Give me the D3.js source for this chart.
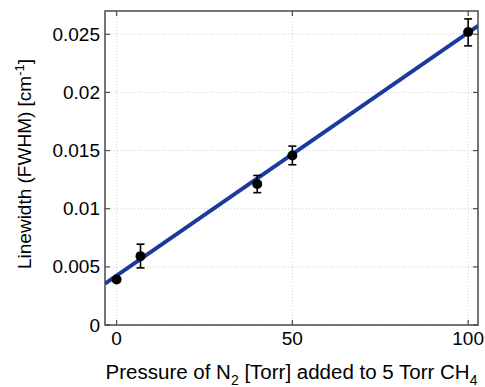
<!DOCTYPE html>
<html>
<head>
<meta charset="utf-8">
<script src="https://cdn.jsdelivr.net/npm/d3@7"></script>
<style>
  body { margin: 0; background: #fff; }
  svg text { font-family: "Liberation Sans", Arial, sans-serif; fill: #000; }
</style>
</head>
<body>
<div id="chart"></div>
<script>
// measured points (N2 pressure in Torr, linewidth in cm^-1)
const pressure = [0, 6.8, 40, 50, 100];
const linewidth = [0.00392, 0.00592, 0.01212, 0.01458, 0.0252];
const errLow = [0.00392, 0.00491, 0.01138, 0.01378, 0.0240];
const errHigh = [0.00392, 0.00695, 0.01286, 0.01538, 0.02632];

// linear fit
const fitIntercept = 0.00424;
const fitSlope = 0.000209;

const xTicks = [0, 50, 100];
const yTicks = [0, 0.005, 0.01, 0.015, 0.02, 0.025];
const yTickLabels = ["0", "0.005", "0.01", "0.015", "0.02", "0.025"];

const width = 485, height = 387;
const margin = { top: 11, right: 7, bottom: 62, left: 105 };

const svg = d3.select("#chart").append("svg")
    .attr("width", width)
    .attr("height", height);

const x = d3.scaleLinear().domain([-3.3, 102.8]).range([margin.left, width - margin.right]);
const y = d3.scaleLinear().domain([0, 0.027]).range([height - margin.bottom, margin.top]);

// grid
const grid = svg.append("g")
    .attr("stroke", "#c4c4c4")
    .attr("stroke-width", 0.8)
    .attr("stroke-dasharray", "1,2");
grid.selectAll(".gx").data(xTicks).join("line")
    .attr("x1", d => x(d)).attr("x2", d => x(d))
    .attr("y1", y.range()[0]).attr("y2", y.range()[1]);
grid.selectAll(".gy").data(yTicks).join("line")
    .attr("x1", x.range()[0]).attr("x2", x.range()[1])
    .attr("y1", d => y(d)).attr("y2", d => y(d));

// fit line
svg.append("clipPath").attr("id", "clip").append("rect")
    .attr("x", margin.left).attr("y", margin.top)
    .attr("width", width - margin.left - margin.right)
    .attr("height", height - margin.top - margin.bottom);

const xd = x.domain();
svg.append("line")
    .attr("clip-path", "url(#clip)")
    .attr("x1", x(xd[0])).attr("y1", y(fitIntercept + fitSlope * xd[0]))
    .attr("x2", x(xd[1])).attr("y2", y(fitIntercept + fitSlope * xd[1]))
    .attr("stroke", "#1b3a9e")
    .attr("stroke-width", 4);

// error bars
const pts = pressure.map((p, i) => ({ p, v: linewidth[i], lo: errLow[i], hi: errHigh[i] }));
const eb = svg.append("g").attr("stroke", "#000").attr("stroke-width", 1.6);
eb.selectAll(".v").data(pts).join("line")
    .attr("x1", d => x(d.p)).attr("x2", d => x(d.p))
    .attr("y1", d => y(d.lo)).attr("y2", d => y(d.hi));
eb.selectAll(".lo").data(pts).join("line")
    .attr("x1", d => x(d.p) - 4).attr("x2", d => x(d.p) + 4)
    .attr("y1", d => y(d.lo)).attr("y2", d => y(d.lo));
eb.selectAll(".hi").data(pts).join("line")
    .attr("x1", d => x(d.p) - 4).attr("x2", d => x(d.p) + 4)
    .attr("y1", d => y(d.hi)).attr("y2", d => y(d.hi));

// markers
svg.append("g").selectAll("circle").data(pts).join("circle")
    .attr("cx", d => x(d.p))
    .attr("cy", d => y(d.v))
    .attr("r", 5)
    .attr("fill", "#000");

// axes box with inward ticks on all sides
const frame = "#4a4a4a";
svg.append("rect")
    .attr("x", margin.left).attr("y", margin.top)
    .attr("width", width - margin.left - margin.right)
    .attr("height", height - margin.top - margin.bottom)
    .attr("fill", "none")
    .attr("stroke", frame)
    .attr("stroke-width", 1.5);

const tk = svg.append("g").attr("stroke", frame).attr("stroke-width", 1.2);
xTicks.forEach(t => {
    tk.append("line").attr("x1", x(t)).attr("x2", x(t)).attr("y1", y.range()[0]).attr("y2", y.range()[0] - 5);
    tk.append("line").attr("x1", x(t)).attr("x2", x(t)).attr("y1", y.range()[1]).attr("y2", y.range()[1] + 5);
});
yTicks.forEach(t => {
    tk.append("line").attr("x1", x.range()[0]).attr("x2", x.range()[0] + 5).attr("y1", y(t)).attr("y2", y(t));
    tk.append("line").attr("x1", x.range()[1]).attr("x2", x.range()[1] - 5).attr("y1", y(t)).attr("y2", y(t));
});

// tick labels
svg.append("g").selectAll("text").data(xTicks).join("text")
    .attr("x", d => x(d))
    .attr("y", height - margin.bottom + 20)
    .attr("text-anchor", "middle")
    .attr("font-size", 19)
    .text(d => d);

svg.append("g").selectAll("text").data(yTicks).join("text")
    .attr("x", margin.left - 5)
    .attr("y", d => y(d) + 6.5)
    .attr("text-anchor", "end")
    .attr("font-size", 19)
    .text((d, i) => yTickLabels[i]);

// x title
const xt = svg.append("text")
    .attr("x", 291.5)
    .attr("y", 379)
    .attr("text-anchor", "middle")
    .attr("font-size", 20.5);
xt.append("tspan").text("Pressure of N");
xt.append("tspan").attr("dy", 6).attr("font-size", 14).text("2");
xt.append("tspan").attr("dy", -6).text(" [Torr] added to 5 Torr CH");
xt.append("tspan").attr("dy", 6).attr("font-size", 14).text("4");

// y title
const yt = svg.append("text")
    .attr("transform", "translate(31,164) rotate(-90)")
    .attr("text-anchor", "middle")
    .attr("font-size", 19);
yt.append("tspan").text("Linewidth (FWHM) [cm");
yt.append("tspan").attr("dy", -7).attr("font-size", 13).text("-1");
yt.append("tspan").attr("dy", 7).text("]");
</script>
</body>
</html>
